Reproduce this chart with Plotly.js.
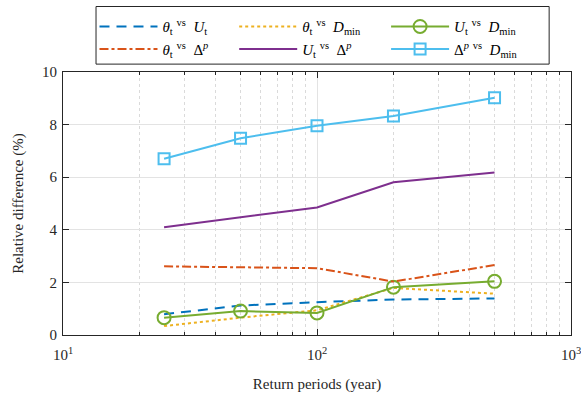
<!DOCTYPE html>
<html>
<head>
<meta charset="utf-8">
<script src="https://cdn.plot.ly/plotly-3.0.1.min.js"></script>
<style>html,body{margin:0;padding:0;background:#fff;}#chart{width:581px;height:396px;}</style>
</head>
<body>
<div id="chart"></div>
<script>
const returnPeriods = [25, 50, 100, 200, 500];
const thetaVsUt   = [0.79, 1.12, 1.25, 1.35, 1.39];
const thetaVsDmin = [0.34, 0.66, 0.94, 1.79, 1.57];
const utVsDmin    = [0.66, 0.91, 0.84, 1.82, 2.04];
const thetaVsDp   = [2.61, 2.57, 2.54, 2.03, 2.66];
const utVsDp      = [4.10, 4.47, 4.85, 5.81, 6.18];
const dpVsDmin    = [6.70, 7.48, 7.96, 8.33, 9.02];
const seriesNames = [
  '<i>θ</i><sub>t</sub> <sup>vs</sup>  <i>U</i><sub>t</sub>',
  '<i>θ</i><sub>t</sub> <sup>vs</sup>  <i>D</i><sub>min</sub>',
  '<i>U</i><sub>t</sub> <sup>vs</sup>  <i>D</i><sub>min</sub>',
  '<i>θ</i><sub>t</sub> <sup>vs</sup>  Δ<sup><i>p</i></sup>',
  '<i>U</i><sub>t</sub> <sup>vs</sup>  Δ<sup><i>p</i></sup>',
  'Δ<sup><i>p</i></sup> <sup>vs</sup>  <i>D</i><sub>min</sub>'
];
const xTickVals = [10, 100, 1000];
const xTickText = ['10<sup>1</sup>', '10<sup>2</sup>', '10<sup>3</sup>'];
const xMinorVals = [20,30,40,50,60,70,80,90,200,300,400,500,600,700,800,900];

const traces = [
  {x: returnPeriods, y: thetaVsUt, name: seriesNames[0], mode: 'lines', legend: 'legend',
   line: {color: '#0072BD', width: 2, dash: '10px,7px'}},
  {x: returnPeriods, y: thetaVsDmin, name: seriesNames[1], mode: 'lines', legend: 'legend2',
   line: {color: '#EDB120', width: 2, dash: 'dot'}},
  {x: returnPeriods, y: utVsDmin, name: seriesNames[2], mode: 'lines+markers', legend: 'legend3',
   line: {color: '#77AC30', width: 2},
   marker: {symbol: 'circle-open', size: 13, color: '#77AC30', line: {width: 2, color: '#77AC30'}}},
  {x: returnPeriods, y: thetaVsDp, name: seriesNames[3], mode: 'lines', legend: 'legend',
   line: {color: '#D95319', width: 2, dash: 'dashdot'}},
  {x: returnPeriods, y: utVsDp, name: seriesNames[4], mode: 'lines', legend: 'legend2',
   line: {color: '#7E2F8E', width: 2}},
  {x: returnPeriods, y: dpVsDmin, name: seriesNames[5], mode: 'lines+markers', legend: 'legend3',
   line: {color: '#4DBEEE', width: 2},
   marker: {symbol: 'square-open', size: 11, color: '#4DBEEE', line: {width: 2, color: '#4DBEEE'}}}
];

function legendAt(xp) {
  return {
    orientation: 'v', x: xp, xanchor: 'left', y: 1.235, yanchor: 'top',
    xref: 'paper', yref: 'paper',
    bgcolor: 'rgba(0,0,0,0)', borderwidth: 0,
    itemwidth: 58, traceorder: 'normal', tracegroupgap: 0,
    font: {family: 'Liberation Serif', size: 15, color: '#000'}
  };
}

const layout = {
  width: 581, height: 396,
  margin: {l: 63, r: 10, t: 70, b: 61},
  paper_bgcolor: '#fff', plot_bgcolor: '#fff',
  font: {family: 'Liberation Serif', size: 14, color: '#262626'},
  showlegend: true,
  legend: legendAt(0.062),
  legend2: legendAt(0.337),
  legend3: legendAt(0.636),
  shapes: [{
    type: 'rect', xref: 'paper', yref: 'paper',
    x0: 0.065, x1: 0.957, y0: 1.030, y1: 1.249,
    line: {color: '#262626', width: 1}, fillcolor: '#fff', layer: 'below'
  }],
  xaxis: {
    type: 'log', range: [1, 3],
    tickmode: 'array', tickvals: xTickVals, ticktext: xTickText,
    ticks: 'inside', ticklen: 6, tickcolor: '#262626',
    showline: true, linecolor: '#262626', linewidth: 1, mirror: 'ticks',
    showgrid: true, gridcolor: '#e3e3e3', gridwidth: 1,
    minor: {tickmode: 'array', tickvals: xMinorVals, ticks: 'inside', ticklen: 3,
            tickcolor: '#262626', showgrid: true, gridcolor: '#dadada', griddash: 'dot', gridwidth: 1},
    zeroline: false, ticklabeloverflow: 'allow', ticklabelstandoff: 6,
    title: {text: 'Return periods (year)', font: {size: 15}, standoff: 16},
    tickfont: {size: 15}
  },
  yaxis: {
    range: [0, 10], dtick: 2, tick0: 0,
    ticks: 'inside', ticklen: 6, tickcolor: '#262626',
    showline: true, linecolor: '#262626', linewidth: 1, mirror: 'ticks',
    showgrid: true, gridcolor: '#e3e3e3', gridwidth: 1,
    zeroline: false, ticklabelstandoff: 2,
    title: {text: 'Relative difference (%)', font: {size: 15}, standoff: 14},
    tickfont: {size: 15}
  }
};

Plotly.newPlot('chart', traces, layout, {displayModeBar: false, staticPlot: true});
</script>
</body>
</html>
